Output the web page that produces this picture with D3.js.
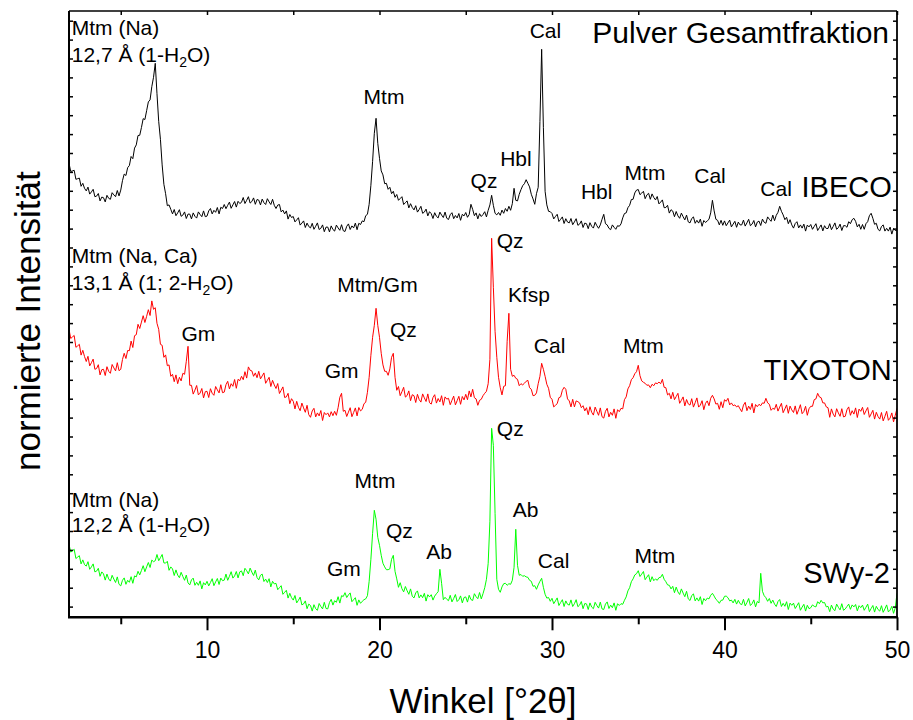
<!DOCTYPE html>
<html>
<head>
<meta charset="utf-8">
<script src="https://cdn.jsdelivr.net/npm/d3@7"></script>
<style>
  body { margin: 0; background: #fff; }
  svg { display: block; font-family: "Liberation Sans", Arial, sans-serif; }
</style>
</head>
<body>
<svg id="chart" width="913" height="720"></svg>
<script>
'use strict';

// measurement grid, degrees 2-theta
var angleStart = 2,
    angleStep = 0.1;

// intensities (counts, already stacked as plotted), one value per step
var ibeco = [
  2270,2229,2232,2235,2190,2193,2196,2155,2170,2145, // 2
  2132,2151,2116,2127,2140,2103,2106,2119,2082,2101, // 3
  2098,2077,2110,2095,2090,2123,2112,2103,2134,2107, // 4
  2136,2183,2216,2209,2248,2259,2304,2293,2346,2362, // 5
  2409,2410,2449,2493,2489,2533,2577,2587,2653,2700, // 6
  2770,2618,2480,2390,2262,2165,2118,2058,2062,2040, // 7
  2017,2039,2008,2022,2038,2005,2011,2027,1994,2016, // 8
  2016,1992,2022,2005,1996,2027,2014,2003,2032,2003, // 9
  2006,2032,2044,2017,2035,2025,2049,2017,2050,2044, // 10
  2064,2043,2060,2076,2045,2062,2079,2051,2080,2069, // 11
  2075,2099,2069,2085,2103,2071,2079,2097,2065,2089, // 12
  2086,2062,2091,2073,2064,2093,2077,2064,2090,2060, // 13
  2044,2061,2064,2027,2036,2017,2032,1991,2014,1999, // 14
  2004,1977,1987,1998,1961,1971,1982,1949,1971,1954, // 15
  1947,1970,1940,1955,1972,1939,1945,1962,1928,1951, // 16
  1951,1927,1957,1939,1931,1961,1947,1935,1963,1933, // 17
  1929,1955,1967,1939,1957,1947,1971,1938,1970,1964, // 18
  1982,1978,2008,2015,2065,2160,2280,2420,2495,2370, // 19
  2295,2232,2212,2168,2170,2140,2150,2118,2130,2100, // 20
  2114,2085,2094,2103,2064,2073,2082,2047,2068,2049, // 21
  2037,2058,2026,2039,2055,2020,2026,2041,2007,2028, // 22
  2018,1994,2023,2005,1997,2026,2011,1999,2026,1995, // 23
  1989,2013,2023,1993,2009,1997,2019,1985,2015,2007, // 24
  2024,2000,2014,2065,2040,2008,2022,1992,2018,2004, // 25
  2014,2028,2002,2035,2062,2110,2060,2020,2012,2024, // 26
  2010,2036,2020,2044,2030,2055,2035,2068,2145,2085, // 27
  2082,2115,2138,2158,2168,2188,2170,2152,2115,2092, // 28
  2065,2118,2150,2480,2840,2450,2130,2062,2030,2028, // 29
  2019,1992,2004,2015,1979,1990,2002,1969,1993,1976, // 30
  1972,1994,1963,1977,1993,1960,1966,1982,1949,1971, // 31
  1968,1943,1973,1955,1946,1975,1958,1945,1962,1990, // 32
  2015,1968,1962,1945,1938,1962,1950,1940,1958,1955, // 33
  1967,1997,2019,2022,2048,2060,2089,2090,2122,2136, // 34
  2139,2113,2121,2130,2093,2112,2120,2090,2117,2099, // 35
  2087,2104,2067,2076,2087,2048,2049,2060,2021,2038, // 36
  2031,2003,2029,2007,1995,2021,2003,1987,2011,1977, // 37
  1972,1994,2002,1970,1985,1971,1991,1955,1984,1974, // 38
  1982,1990,2022,2085,2032,1990,1985,1962,1985,1960, // 39
  1982,1958,1972,1986,1952,1966,1980,1950,1976,1962, // 40
  1962,1986,1956,1972,1990,1958,1966,1984,1952,1976, // 41
  1981,1959,1991,1975,1970,2002,1990,1980,2011,1983, // 42
  2010,2025,2055,2030,2012,1988,2000,1968,1988,1962, // 43
  1946,1969,1978,1947,1962,1946,1966,1931,1961,1952, // 44
  1964,1940,1954,1968,1934,1948,1962,1932,1958,1944, // 45
  1944,1968,1938,1954,1972,1940,1948,1966,1934,1958, // 46
  1958,1950,1978,1968,1988,1995,1980,1952,1965,1940, // 47
  1964,1940,1968,1978,2008,2020,1995,1965,1970,1940, // 48
  1932,1954,1962,1931,1945,1931,1951,1916,1944,1934, // 49
  1935
];

var tixoton = [
  1440,1394,1402,1409,1350,1357,1365,1311,1335,1304, // 2
  1279,1305,1257,1273,1291,1240,1244,1263,1212,1238, // 3
  1240,1209,1253,1230,1220,1264,1247,1232,1273,1233, // 4
  1240,1289,1320,1294,1334,1333,1381,1349,1408,1413, // 5
  1465,1444,1476,1508,1474,1505,1538,1509,1582,1540, // 6
  1548,1470,1440,1365,1360,1300,1312,1258,1262,1205, // 7
  1215,1178,1212,1168,1200,1182,1220,1215,1280,1355, // 8
  1160,1160,1116,1136,1159,1112,1121,1144,1097,1128, // 9
  1130,1099,1143,1120,1110,1154,1137,1122,1163,1123, // 10
  1126,1163,1180,1142,1168,1155,1189,1145,1190,1183, // 11
  1205,1188,1228,1196,1252,1235,1232,1205,1222,1198, // 12
  1230,1192,1207,1222,1170,1185,1200,1154,1185,1162, // 13
  1144,1169,1119,1135,1152,1099,1102,1120,1068,1093, // 14
  1080,1042,1080,1050,1033,1071,1047,1025,1060,1013, // 15
  1000,1032,1045,1002,1022,1007,1034,984,1024,1013,  // 16
  1022,1002,1028,1008,1030,1010,1048,1100,1120,1030, // 17
  1035,1004,1026,1048,1003,1024,1047,1007,1049,1032, // 18
  1040,1068,1075,1125,1200,1310,1400,1460,1545,1460, // 19
  1400,1320,1262,1230,1230,1210,1242,1300,1320,1200, // 20
  1135,1154,1108,1128,1150,1101,1109,1132,1083,1113, // 21
  1108,1074,1115,1089,1076,1117,1097,1079,1117,1073, // 22
  1066,1099,1113,1071,1094,1077,1108,1060,1102,1091, // 23
  1095,1063,1085,1106,1062,1083,1105,1065,1104,1087, // 24
  1115,1088,1132,1102,1140,1098,1092,1060,1085,1090, // 25
  1108,1120,1130,1168,1290,1895,1650,1430,1300,1200, // 26
  1148,1112,1155,1158,1380,1520,1240,1205,1210,1195, // 27
  1190,1158,1168,1162,1170,1180,1185,1148,1140,1108, // 28
  1110,1122,1168,1205,1270,1240,1205,1165,1145,1100, // 29
  1090,1052,1060,1068,1098,1102,1135,1150,1140,1092, // 30
  1082,1052,1090,1052,1082,1078,1072,1048,1058,1032, // 31
  1048,1013,1053,1025,1011,1051,1030,1010,1047,1003, // 32
  996,1030,1045,1002,1025,1010,1042,995,1038,1028,   // 33
  1045,1042,1088,1102,1142,1158,1188,1198,1218,1228, // 34
  1260,1208,1182,1175,1170,1160,1162,1148,1165,1158, // 35
  1172,1168,1176,1168,1190,1150,1148,1112,1120,1092, // 36
  1125,1088,1104,1120,1070,1085,1102,1057,1089,1067, // 37
  1061,1093,1051,1073,1097,1051,1061,1083,1038,1070, // 38
  1082,1058,1095,1110,1092,1066,1070,1040,1078,1048, // 39
  1088,1080,1095,1062,1072,1058,1062,1052,1058,1042, // 40
  1028,1061,1075,1033,1056,1039,1070,1022,1064,1053, // 41
  1065,1058,1072,1070,1095,1072,1065,1035,1045,1040, // 42
  1065,1031,1051,1070,1023,1042,1062,1020,1056,1037, // 43
  1024,1057,1015,1038,1063,1018,1029,1055,1010,1043, // 44
  1055,1055,1088,1092,1120,1102,1098,1072,1072,1052, // 45
  1048,1000,1042,1016,1002,1043,1022,1005,1043,1002, // 46
  1005,1038,1052,1010,1033,1016,1047,999,1041,1030,  // 47
  1050,1014,1032,1049,1000,1017,1035,991,1025,1004,  // 48
  991,1024,982,1005,1030,985,996,1022,977,1010,      // 49
  1045
];

var swy2 = [
  365,326,332,340,294,301,308,267,287,263, // 2
  256,278,240,252,267,227,231,245,205,227, // 3
  217,186,216,192,181,210,191,174,202,165, // 4
  157,185,197,165,185,175,203,170,207,202, // 5
  230,212,234,258,228,252,274,249,286,278, // 6
  283,314,283,298,314,272,271,280,235,252, // 7
  242,209,237,211,198,225,204,185,211,172, // 8
  162,187,196,160,175,160,182,142,173,162, // 9
  180,157,174,193,158,177,194,164,196,183, // 10
  186,216,185,205,228,196,207,229,197,227, // 11
  232,208,245,233,217,246,226,209,236,199, // 12
  187,210,216,179,191,174,193,152,180,167, // 13
  170,138,148,158,115,125,135,96,120,98,   // 14
  86,109,72,85,101,62,67,82,43,66,         // 15
  59,31,63,43,35,69,54,42,75,44,           // 16
  42,74,90,61,83,75,103,71,108,104,        // 17
  123,99,112,122,78,88,98,60,87,70,        // 18
  80,88,92,108,180,290,420,535,490,400,    // 19
  360,310,270,252,238,238,242,290,310,230, // 20
  192,150,173,143,127,154,133,115,142,105, // 21
  97,122,132,97,112,98,120,81,113,102,     // 22
  113,86,106,118,128,240,170,88,100,90,    // 23
  83,110,77,94,114,79,88,107,72,99,        // 24
  102,76,110,89,84,118,103,93,124,92,      // 25
  118,148,190,270,480,945,860,520,190,140, // 26
  125,152,168,170,160,168,165,185,250,440, // 27
  260,210,214,205,208,202,200,185,180,155, // 28
  158,140,162,180,195,150,115,96,99,80,    // 29
  95,68,82,97,59,74,88,54,82,65,           // 30
  61,87,54,68,88,53,61,79,43,69,           // 31
  67,39,72,51,43,75,59,46,76,42,           // 32
  39,66,77,44,61,48,72,35,68,59,           // 33
  68,65,85,102,132,148,178,192,212,218,    // 34
  233,204,216,229,188,201,213,177,203,183, // 35
  192,185,198,200,215,190,178,162,160,142, // 36
  155,123,151,127,114,142,121,103,130,92,  // 37
  84,109,117,82,97,81,103,64,94,83,        // 38
  96,92,110,120,106,90,82,70,85,86,        // 39
  105,106,98,82,86,72,90,66,85,68,         // 40
  63,90,57,74,94,59,68,87,52,79,           // 41
  72,220,130,108,98,80,94,70,86,66,        // 42
  54,79,89,54,70,55,78,39,71,60,           // 43
  71,44,58,73,35,51,65,31,60,43,           // 44
  48,62,55,52,78,68,85,72,74,52,           // 45
  55,28,61,41,33,66,50,37,68,35,           // 46
  42,54,66,40,62,52,64,32,58,48,           // 47
  61,35,50,66,28,44,59,26,55,39,           // 48
  31,58,25,42,62,27,36,55,20,47,           // 49
  120
];

var seriesList = [ibeco, tixoton, swy2],
    seriesColors = ['#000000', '#ff0000', '#00ff00'];

var angleDomain = [2, 50],
    intensityDomain = [0, 3031.5],
    xTicksMajor = [10, 20, 30, 40, 50],
    xTicksMinor = [5, 15, 25, 35, 45],
    yTicks = d3.range(53.5, 3031.5, 94.5);

// [text, angle, intensity, anchor]  (_x marks a subscript)
var peakLabels = [
  ['Mtm (Na)', 2.16, 2911, 'start'],
  ['12,7 Å (1-H_2O)', 2.16, 2778, 'start'],
  ['Mtm', 20.26, 2566, 'middle'],
  ['Cal', 29.62, 2898, 'middle'],
  ['Qz', 26.06, 2145, 'middle'],
  ['Hbl', 27.91, 2258, 'middle'],
  ['Hbl', 32.59, 2090, 'middle'],
  ['Mtm', 35.39, 2187, 'middle'],
  ['Cal', 39.16, 2170, 'middle'],
  ['Cal', 42.99, 2107, 'middle'],
  ['Mtm (Na, Ca)', 2.16, 1772, 'start'],
  ['13,1 Å (1; 2-H_2O)', 2.16, 1637, 'start'],
  ['Mtm/Gm', 19.88, 1628, 'middle'],
  ['Gm', 9.50, 1383, 'middle'],
  ['Gm', 17.80, 1195, 'middle'],
  ['Qz', 21.38, 1400, 'middle'],
  ['Qz', 26.79, 1845, 'start'],
  ['Kfsp', 27.45, 1578, 'start'],
  ['Cal', 29.86, 1323, 'middle'],
  ['Mtm', 35.30, 1320, 'middle'],
  ['Mtm (Na)', 2.16, 550, 'start'],
  ['12,2 Å (1-H_2O)', 2.16, 425, 'start'],
  ['Mtm', 19.74, 645, 'middle'],
  ['Qz', 21.15, 395, 'middle'],
  ['Gm', 17.93, 207, 'middle'],
  ['Ab', 23.46, 292, 'middle'],
  ['Qz', 26.80, 907, 'start'],
  ['Ab', 27.72, 503, 'start'],
  ['Cal', 30.09, 245, 'middle'],
  ['Mtm', 35.96, 273, 'middle']
];

var sampleLabels = [
  ['Pulver Gesamtfraktion', 49.54, 2873],
  ['IBECO', 49.70, 2103],
  ['TIXOTON', 49.70, 1187],
  ['SWy-2', 49.59, 172]
];


var svg = d3.select('#chart'),
    margin = {top: 11, left: 69},
    plotW = 828,
    plotH = 606.3,
    x,
    y,
    plot,
    line;

x = d3.scaleLinear().domain(angleDomain).range([0, plotW]);
y = d3.scaleLinear().domain(intensityDomain).range([plotH, 0]);

plot = svg.append('g')
    .attr('transform', 'translate(' + margin.left + ',' + margin.top + ')');

plot.append('clipPath').attr('id', 'clip')
  .append('rect')
    .attr('width', plotW)
    .attr('height', plotH);

line = d3.line()
    .x(function (d, i) { return x(angleStart + i * angleStep); })
    .y(function (d) { return y(d); });

// patterns
plot.append('g')
    .attr('clip-path', 'url(#clip)')
  .selectAll('path')
  .data(seriesList)
  .enter().append('path')
    .attr('fill', 'none')
    .attr('stroke', function (d, i) { return seriesColors[i]; })
    .attr('stroke-width', 1)
    .attr('stroke-linejoin', 'round')
    .attr('d', line);

// axes
var styleAxis = function (g, width) {
  g.select('.domain').remove();
  g.selectAll('.tick line').attr('stroke', '#000').attr('stroke-width', width);
  g.selectAll('.tick text')
      .attr('font-family', '"Liberation Sans", Arial, sans-serif')
      .attr('font-size', 23)
      .attr('fill', '#000');
};

plot.append('g')
    .attr('transform', 'translate(0,' + plotH + ')')
    .call(d3.axisBottom(x).tickValues(xTicksMajor).tickSize(13).tickPadding(11)
        .tickFormat(d3.format('d')))
    .call(styleAxis, 2);

plot.append('g')
    .attr('transform', 'translate(0,' + plotH + ')')
    .call(d3.axisBottom(x).tickValues(xTicksMinor).tickSize(7).tickFormat(''))
    .call(styleAxis, 2);

plot.append('g')
    .call(d3.axisTop(x).tickValues(xTicksMinor.concat(xTicksMajor)).tickSize(-4)
        .tickFormat(''))
    .call(styleAxis, 1.5);

plot.append('g')
    .call(d3.axisLeft(y).tickValues(yTicks).tickSize(-4).tickFormat(''))
    .call(styleAxis, 1.5);

plot.append('g')
    .attr('transform', 'translate(' + plotW + ',0)')
    .call(d3.axisRight(y).tickValues(yTicks).tickSize(-4).tickFormat(''))
    .call(styleAxis, 1.5);

// frame
plot.append('line').attr('x1', 0).attr('x2', plotW).attr('y1', 0).attr('y2', 0)
    .attr('stroke', '#000').attr('stroke-width', 1.5);
plot.append('line').attr('x1', plotW).attr('x2', plotW).attr('y1', 0).attr('y2', plotH)
    .attr('stroke', '#000').attr('stroke-width', 1.8);
plot.append('line').attr('x1', 0).attr('x2', 0).attr('y1', 0).attr('y2', plotH)
    .attr('stroke', '#000').attr('stroke-width', 2);
plot.append('line').attr('x1', -1).attr('x2', plotW + 1).attr('y1', plotH).attr('y2', plotH)
    .attr('stroke', '#000').attr('stroke-width', 2.5);

// labels with subscripts, e.g. H_2O
var addRichText = function (sel, str) {
  var shift = 0;

  str.split(/(_.)/).forEach(function (part) {
    if (part.charAt(0) === '_') {
      sel.append('tspan').attr('font-size', 14).attr('dy', 5).text(part.charAt(1));
      shift = -5;
    } else if (part.length) {
      sel.append('tspan').attr('dy', shift).text(part);
      shift = 0;
    }
  });
};

plot.append('g')
  .selectAll('text')
  .data(peakLabels)
  .enter().append('text')
    .attr('x', function (d) { return x(d[1]); })
    .attr('y', function (d) { return y(d[2]); })
    .attr('text-anchor', function (d) { return d[3]; })
    .attr('font-size', 21)
    .attr('fill', '#000')
    .each(function (d) { addRichText(d3.select(this), d[0]); });

plot.append('g')
  .selectAll('text')
  .data(sampleLabels)
  .enter().append('text')
    .attr('x', function (d) { return x(d[1]); })
    .attr('y', function (d) { return y(d[2]); })
    .attr('text-anchor', 'end')
    .attr('font-size', function (d, i) { return i === 0 ? 30 : 29; })
    .attr('fill', '#000')
    .text(function (d) { return d[0]; });

// axis titles
svg.append('text')
    .attr('x', margin.left + plotW / 2)
    .attr('y', 713)
    .attr('text-anchor', 'middle')
    .attr('font-size', 35)
    .text('Winkel [°2θ]');

svg.append('text')
    .attr('transform', 'translate(40,' + (margin.top + plotH / 2 + 7) + ') rotate(-90)')
    .attr('text-anchor', 'middle')
    .attr('font-size', 35)
    .text('normierte Intensität');
</script>
</body>
</html>
